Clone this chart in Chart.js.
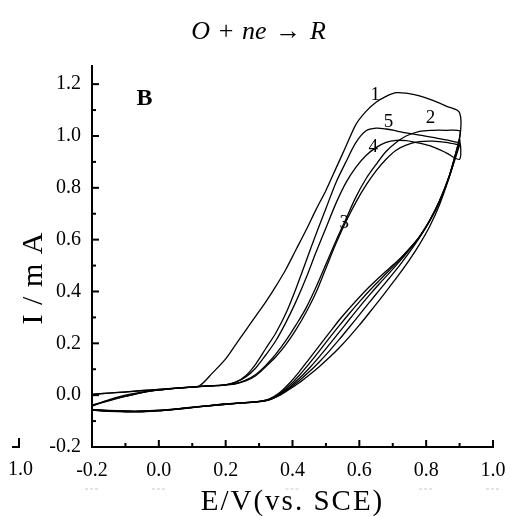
<!DOCTYPE html>
<html>
<head>
    <meta charset="utf-8">
    <title>CV curves</title>
    <script src="https://cdn.jsdelivr.net/npm/chart.js"></script>
    <style>
        body { margin: 0; background: #fff; }
        #wrap { position: relative; width: 511px; height: 516px; }
        #eq { position: absolute; left: 3px; width: 511px; top: 16px; line-height: 30px;
              text-align: center; font-family: 'Liberation Serif', serif; font-size: 26px; color: #000; }
        #eq i { font-style: italic; }
    </style>
</head>
<body>
<div id="wrap">
    <div id="eq"><i>O</i>&#8196;+&#8196;<i>ne</i>&#8196;→&#8196;<i>R</i></div>
    <canvas id="myChart"></canvas>
</div>

<script>
    // potential grids (V vs SCE)
    var fwdE = [-0.20, -0.15, -0.10, -0.05, 0.00, 0.05, 0.10, 0.15, 0.20, 0.25, 0.30, 0.33, 0.36, 0.39, 0.42,
        0.45, 0.48, 0.51, 0.54, 0.57, 0.60, 0.63, 0.66, 0.69, 0.72, 0.75, 0.78, 0.81, 0.84, 0.87, 0.90];
    var revE = [0.90, 0.86, 0.82, 0.78, 0.74, 0.71, 0.68, 0.65, 0.62, 0.59, 0.56, 0.53, 0.50, 0.47, 0.44, 0.41,
        0.38, 0.35, 0.32, 0.29, 0.26, 0.23, 0.20, 0.16, 0.12, 0.08, 0.04, 0.00, -0.05, -0.10, -0.15, -0.20];

    // current (mA), forward scans
    var fwd1 = [-0.055, -0.059, -0.061, -0.061, -0.058, -0.053, -0.046, -0.040, -0.034, -0.029, -0.024, -0.015, 0.008, 0.045, 0.090,
        0.140, 0.190, 0.240, 0.290, 0.335, 0.378, 0.418, 0.455, 0.490, 0.525, 0.565, 0.610, 0.670, 0.745, 0.845, 0.990];
    var fwd2 = [-0.057, -0.061, -0.063, -0.063, -0.060, -0.055, -0.048, -0.041, -0.035, -0.030, -0.025, -0.018, 0.000, 0.026, 0.056,
        0.090, 0.128, 0.170, 0.215, 0.262, 0.310, 0.358, 0.405, 0.452, 0.500, 0.552, 0.608, 0.672, 0.750, 0.850, 0.995];
    var fwd3 = [-0.058, -0.062, -0.064, -0.064, -0.061, -0.055, -0.048, -0.041, -0.035, -0.030, -0.025, -0.018, -0.002, 0.022, 0.048,
        0.078, 0.110, 0.145, 0.183, 0.225, 0.270, 0.318, 0.367, 0.417, 0.468, 0.522, 0.582, 0.650, 0.735, 0.845, 0.965];
    var fwd4 = [-0.057, -0.061, -0.063, -0.063, -0.060, -0.054, -0.047, -0.041, -0.035, -0.030, -0.025, -0.017, 0.002, 0.030, 0.064,
        0.104, 0.148, 0.195, 0.243, 0.292, 0.340, 0.386, 0.430, 0.472, 0.515, 0.562, 0.612, 0.674, 0.750, 0.850, 0.975];
    var fwd5 = [-0.056, -0.060, -0.062, -0.062, -0.059, -0.054, -0.047, -0.040, -0.034, -0.029, -0.024, -0.016, 0.004, 0.036, 0.076,
        0.122, 0.170, 0.220, 0.268, 0.315, 0.360, 0.403, 0.443, 0.482, 0.522, 0.565, 0.612, 0.672, 0.748, 0.848, 0.985];

    // current (mA), reverse scans
    var rev1 = [1.090, 1.115, 1.137, 1.155, 1.165, 1.167, 1.153, 1.130, 1.095, 1.045, 0.960, 0.875, 0.790, 0.715, 0.635, 0.560,
        0.485, 0.420, 0.360, 0.305, 0.250, 0.195, 0.140, 0.085, 0.035, 0.030, 0.026, 0.022, 0.018, 0.013, 0.008, 0.003];
    var rev2 = [1.020, 1.022, 1.022, 1.018, 1.000, 0.975, 0.940, 0.890, 0.835, 0.765, 0.680, 0.595, 0.505, 0.415, 0.335, 0.270,
        0.210, 0.158, 0.115, 0.080, 0.058, 0.045, 0.040, 0.037, 0.034, 0.030, 0.026, 0.022, 0.017, 0.012, 0.008, 0.003];
    var rev3 = [0.965, 0.975, 0.980, 0.978, 0.965, 0.945, 0.910, 0.865, 0.810, 0.745, 0.670, 0.585, 0.490, 0.395, 0.318, 0.252,
        0.195, 0.148, 0.110, 0.075, 0.055, 0.044, 0.040, 0.036, 0.033, 0.029, 0.025, 0.020, 0.010, -0.004, -0.020, -0.038];
    var rev4 = [0.910, 0.935, 0.958, 0.972, 0.982, 0.983, 0.975, 0.955, 0.925, 0.880, 0.820, 0.740, 0.645, 0.550, 0.450, 0.360,
        0.280, 0.210, 0.155, 0.105, 0.070, 0.050, 0.040, 0.036, 0.033, 0.029, 0.025, 0.020, 0.010, -0.005, -0.022, -0.040];
    var rev5 = [0.975, 0.985, 0.995, 1.003, 1.012, 1.020, 1.027, 1.030, 1.020, 0.975, 0.900, 0.820, 0.720, 0.620, 0.515, 0.410,
        0.315, 0.240, 0.180, 0.120, 0.075, 0.050, 0.040, 0.036, 0.033, 0.029, 0.025, 0.020, 0.012, 0.000, -0.018, -0.042];

    var curveNames = ['1', '2', '3', '4', '5'];
    var fwdList = [fwd1, fwd2, fwd3, fwd4, fwd5];
    var revList = [rev1, rev2, rev3, rev4, rev5];

    // where the curve numbers sit, in data units
    var labelE = [0.648, 0.813, 0.555, 0.642, 0.687];
    var labelI = [1.139, 1.049, 0.646, 0.940, 1.036];

    var xTitle = 'E/V(vs. SCE)';
    var yTitle = 'I / m A';
    var panelTag = 'B';

    function loop(fwd, rev) {
        var pts = fwdE.map(function(e, i) { return {x: e, y: fwd[i]}; });
        return pts.concat(revE.map(function(e, i) { return {x: e, y: rev[i]}; }));
    }

    function tickText(v) {
        var k = Math.round(v * 10);
        if (Math.abs(v * 10 - k) > 1e-6 || k % 2 !== 0) return '';
        return (k / 10).toFixed(1);
    }

    var serif = "'Liberation Serif', 'Times New Roman', serif";
    Chart.defaults.font.family = serif;
    Chart.defaults.color = '#000';

    var decor = {
        id: 'decor',
        afterDraw: function(chart) {
            var ctx = chart.ctx, x = chart.scales.x, y = chart.scales.y;
            ctx.save();
            ctx.strokeStyle = '#000';
            ctx.lineWidth = 2;
            x.ticks.forEach(function(t) {
                var k = Math.round(t.value * 10);
                if (Math.abs(t.value * 10 - k) > 1e-6) return;
                var len = k % 2 === 0 ? 7 : 4;
                var px = x.getPixelForValue(t.value);
                ctx.beginPath(); ctx.moveTo(px, y.bottom); ctx.lineTo(px, y.bottom - len); ctx.stroke();
            });
            y.ticks.forEach(function(t) {
                var k = Math.round(t.value * 10);
                if (Math.abs(t.value * 10 - k) > 1e-6) return;
                var len = k % 2 === 0 ? 7 : 4;
                var py = y.getPixelForValue(t.value);
                ctx.beginPath(); ctx.moveTo(x.left, py); ctx.lineTo(x.left + len, py); ctx.stroke();
            });

            ctx.fillStyle = '#000';
            // curve numbers
            ctx.font = '19px ' + serif;
            ctx.textAlign = 'center';
            ctx.textBaseline = 'alphabetic';
            curveNames.forEach(function(n, i) {
                ctx.fillText(n, x.getPixelForValue(labelE[i]), y.getPixelForValue(labelI[i]));
            });
            // panel tag
            ctx.font = 'bold 24px ' + serif;
            ctx.textAlign = 'left';
            ctx.fillText(panelTag, x.getPixelForValue(-0.067), y.getPixelForValue(1.12));

            // axis titles
            ctx.font = '29px ' + serif;
            ctx.letterSpacing = '2px';
            ctx.textAlign = 'center';
            ctx.fillText(xTitle, (x.left + x.right) / 2, 510);
            ctx.save();
            ctx.translate(42, 278);
            ctx.rotate(-Math.PI / 2);
            ctx.letterSpacing = '1px';
            ctx.font = '30px ' + serif;
            ctx.fillText(yTitle, 0, 0);
            ctx.restore();
            ctx.letterSpacing = '0px';

            // scan leftovers from the source figure
            ctx.font = '20px ' + serif;
            ctx.textAlign = 'right';
            ctx.fillText('1.0', 33, 475);
            ctx.beginPath(); ctx.moveTo(19, 438); ctx.lineTo(19, 447); ctx.lineTo(12, 447); ctx.stroke();
            ctx.strokeStyle = '#c8c8c8';
            ctx.lineWidth = 1;
            ctx.setLineDash([3, 2]);
            [-0.2, 0.0, 0.4, 0.8, 1.0].forEach(function(v) {
                var px = x.getPixelForValue(v);
                ctx.beginPath(); ctx.moveTo(px - 7, 489); ctx.lineTo(px + 7, 489); ctx.stroke();
            });
            ctx.restore();
        }
    };

    var ctx = document.getElementById('myChart');
    var myChart = new Chart(ctx, {
        type: 'scatter',
        data: {
            datasets: curveNames.map(function(n, i) {
                return {
                    label: n,
                    data: loop(fwdList[i], revList[i]),
                    showLine: true,
                    borderColor: '#000',
                    borderWidth: 1.3,
                    pointRadius: 0,
                    tension: 0.3
                };
            })
        },
        options: {
            responsive: true,
            maintainAspectRatio: false,
            animation: false,
            layout: { padding: { left: 0, right: 18, top: 66, bottom: 0 } },
            plugins: { legend: { display: false }, tooltip: { enabled: false } },
            scales: {
                x: {
                    type: 'linear', min: -0.2, max: 1.0,
                    grid: { display: false },
                    border: { display: true, color: '#000', width: 2 },
                    ticks: { stepSize: 0.1, autoSkip: false, maxRotation: 0, padding: 4,
                             font: { size: 20 }, callback: tickText },
                    afterFit: function(s) { s.height = 69; }
                },
                y: {
                    type: 'linear', min: -0.2, max: 1.27,
                    grid: { display: false },
                    border: { display: true, color: '#000', width: 2 },
                    ticks: { stepSize: 0.1, autoSkip: false, includeBounds: false, padding: 3,
                             font: { size: 20 }, callback: tickText },
                    afterFit: function(s) { s.width = 92; }
                }
            }
        },
        plugins: [decor]
    });
</script>
</body>
</html>
